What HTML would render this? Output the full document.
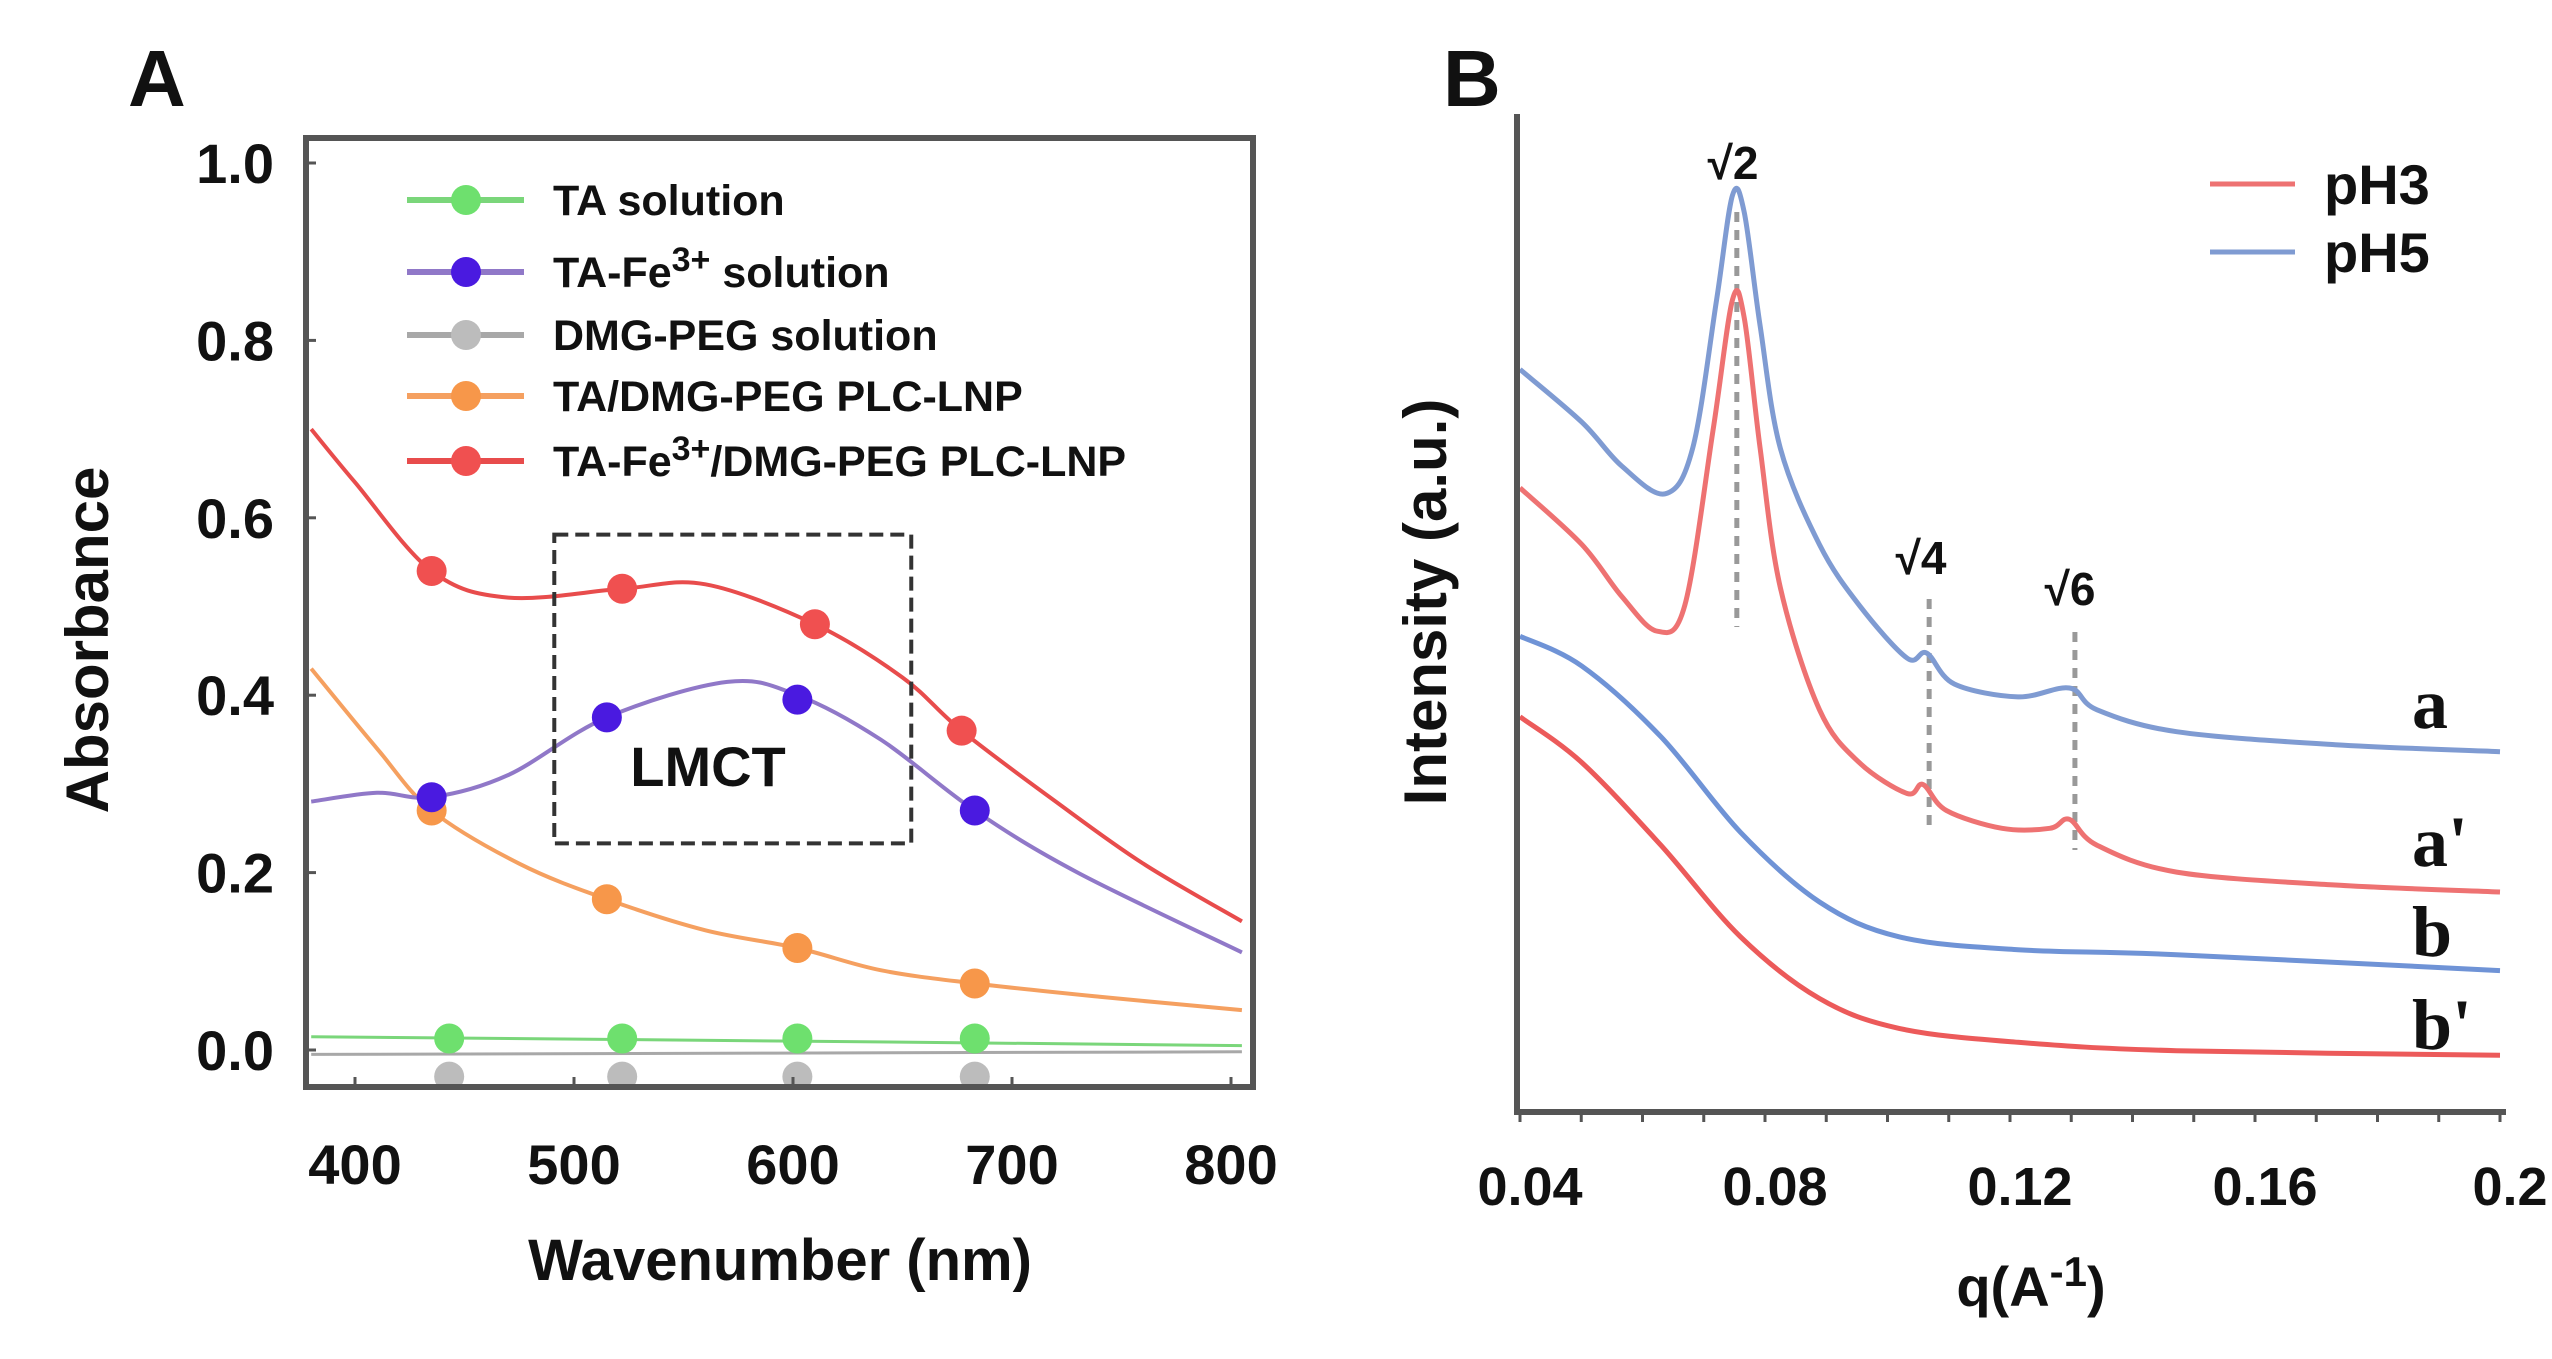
<!DOCTYPE html>
<html><head><meta charset="utf-8">
<style>
html,body{margin:0;padding:0;background:#fff;}
svg{display:block;font-family:"Liberation Sans",Arial,sans-serif;}
</style></head>
<body>
<svg id="fig" width="2552" height="1359" viewBox="0 0 2552 1359" xmlns="http://www.w3.org/2000/svg">
<g id="panelA"></g>
<g id="panelB"></g>
</svg>
<script>
// ---------- Panel A data ----------
const aXTicks = [400, 500, 600, 700, 800];
const aYTicks = [0.0, 0.2, 0.4, 0.6, 0.8, 1.0];
const aSeriesNames = ["TA solution", "TA-Fe3+ solution", "DMG-PEG solution", "TA/DMG-PEG PLC-LNP", "TA-Fe3+/DMG-PEG PLC-LNP"];
const redCurveX = [380, 400, 435, 470, 522, 560, 610, 650, 677, 720, 760, 805];
const redCurveY = [0.70, 0.64, 0.54, 0.51, 0.52, 0.525, 0.48, 0.42, 0.36, 0.28, 0.21, 0.145];
const redMarkX = [435, 522, 610, 677];
const redMarkY = [0.54, 0.52, 0.48, 0.36];
const purpleCurveX = [380, 410, 435, 470, 515, 570, 602, 640, 683, 730, 805];
const purpleCurveY = [0.28, 0.29, 0.285, 0.31, 0.375, 0.415, 0.40, 0.35, 0.27, 0.20, 0.11];
const purpleMarkX = [435, 515, 602, 683];
const purpleMarkY = [0.285, 0.375, 0.395, 0.27];
const orangeCurveX = [380, 410, 435, 475, 515, 560, 602, 640, 683, 740, 805];
const orangeCurveY = [0.43, 0.34, 0.27, 0.21, 0.17, 0.135, 0.115, 0.09, 0.075, 0.06, 0.045];
const orangeMarkX = [435, 515, 602, 683];
const orangeMarkY = [0.27, 0.17, 0.115, 0.075];
const greenCurveX = [380, 600, 805];
const greenCurveY = [0.015, 0.01, 0.005];
const greenMarkX = [443, 522, 602, 683];
const greenMarkY = [0.013, 0.013, 0.013, 0.013];
const grayCurveX = [380, 805];
const grayCurveY = [-0.005, -0.002];
const grayMarkX = [443, 522, 602, 683];
const grayMarkY = [-0.03, -0.03, -0.03, -0.03];
const lmctBoxX = [491, 654];
const lmctBoxY = [0.233, 0.581];

// ---------- Panel B data ----------
const bXTicks = [0.04, 0.08, 0.12, 0.16, 0.2];
const bXTickLabels = ["0.04", "0.08", "0.12", "0.16", "0.2"];
const curveA_q = [0.040,0.0501,0.0566,0.0637,0.0682,0.0721,0.0747,0.0766,0.0792,0.0825,0.0889,0.0954,0.1032,0.1064,0.1109,0.1213,0.1297,0.1342,0.1472,0.1731,0.2];
const curveA_I = [74.4,69.1,64.7,61.9,66.5,81.4,91.9,90.2,78.8,66.5,56.8,50.7,45.4,45.9,42.8,41.5,42.4,40.2,38.0,36.7,36.0];
const curveA2_q = [0.040,0.0501,0.0566,0.0624,0.0669,0.0715,0.0747,0.0766,0.0792,0.0825,0.0889,0.0954,0.1032,0.1058,0.1096,0.1187,0.1265,0.1297,0.1342,0.1472,0.1731,0.2];
const curveA2_I = [62.5,56.8,51.6,48.1,50.7,68.2,81.4,79.6,66.5,52.5,40.2,34.9,31.8,32.7,30.1,28.3,28.3,29.2,26.6,23.9,22.6,21.9];
const curveB_q = [0.040,0.0501,0.063,0.076,0.0889,0.1019,0.1213,0.1472,0.2];
const curveB_I = [47.6,44.6,37.5,27.9,20.9,17.4,16.1,15.6,14.0];
const curveB2_q = [0.040,0.0501,0.063,0.076,0.0889,0.1019,0.1213,0.1472,0.2];
const curveB2_I = [39.5,34.9,26.6,17.4,11.2,8.2,6.8,5.96,5.5];
const peakQ = [0.0754, 0.1068, 0.1306];
const peakLabels = ["√2", "√4", "√6"];

const NS = "http://www.w3.org/2000/svg";
function mk(parent, tag, attrs, text){
  const e = document.createElementNS(NS, tag);
  for (const k in attrs) e.setAttribute(k, attrs[k]);
  if (text !== undefined) e.textContent = text;
  parent.appendChild(e);
  return e;
}
function smoothPath(pts){
  let d = "M" + pts[0][0].toFixed(1) + "," + pts[0][1].toFixed(1);
  for (let i = 0; i < pts.length - 1; i++){
    const p0 = pts[Math.max(0,i-1)], p1 = pts[i], p2 = pts[i+1], p3 = pts[Math.min(pts.length-1,i+2)];
    const c1x = p1[0] + (p2[0]-p0[0])/6, c1y = p1[1] + (p2[1]-p0[1])/6;
    const c2x = p2[0] - (p3[0]-p1[0])/6, c2y = p2[1] - (p3[1]-p1[1])/6;
    d += " C" + c1x.toFixed(1)+","+c1y.toFixed(1)+" "+c2x.toFixed(1)+","+c2y.toFixed(1)+" "+p2[0].toFixed(1)+","+p2[1].toFixed(1);
  }
  return d;
}

// ---------- Panel A ----------
(function(){
  const g = document.getElementById("panelA");
  const fl = 306, fr = 1253, ft = 138, fb = 1087;
  const xs = v => 355 + (v - 400) * 2.19;
  const ys = v => 1050 - v * 887;
  let t;
  t = mk(g, "text", {x:128, y:106, "font-size":80, "font-weight":"bold", fill:"#111"}, "A");
  
  
  const defs = mk(g, "defs", {});
  const cp = mk(defs, "clipPath", {id:"clipA"});
  mk(cp, "rect", {x:fl, y:ft, width:fr-fl, height:fb-ft});
  const plot = mk(g, "g", {"clip-path":"url(#clipA)"});
  
  

  const series = [
    {cx:greenCurveX, cy:greenCurveY, mx:greenMarkX, my:greenMarkY, line:"#7ad67a", mark:"#6ee06e", name:"series-ta-solution", w:3},
    {cx:grayCurveX, cy:grayCurveY, mx:grayMarkX, my:grayMarkY, line:"#a8a8a8", mark:"#bcbcbc", name:"series-dmg-peg-solution", w:3},
    {cx:orangeCurveX, cy:orangeCurveY, mx:orangeMarkX, my:orangeMarkY, line:"#f5a060", mark:"#f7974a", name:"series-ta-dmg-peg-plc-lnp", w:4},
    {cx:purpleCurveX, cy:purpleCurveY, mx:purpleMarkX, my:purpleMarkY, line:"#9078c8", mark:"#4a1ae0", name:"series-ta-fe-solution", w:4},
    {cx:redCurveX, cy:redCurveY, mx:redMarkX, my:redMarkY, line:"#e84c4c", mark:"#f05050", name:"series-ta-fe-dmg-peg-plc-lnp", w:4}
  ];
  series.forEach(s => {
    const pts = s.cx.map((x,i) => [xs(x), ys(s.cy[i])]);
    const p = mk(plot, "path", {d:smoothPath(pts), fill:"none", stroke:s.line, "stroke-width":s.w});
    
    
  });
  const bx = mk(g, "rect", {x:xs(lmctBoxX[0]), y:ys(lmctBoxY[1]), width:xs(lmctBoxX[1])-xs(lmctBoxX[0]), height:ys(lmctBoxY[0])-ys(lmctBoxY[1]), fill:"none", stroke:"#333", "stroke-width":4, "stroke-dasharray":"14 7"});
  
  
  t = mk(g, "text", {x:708, y:786, "font-size":56, "font-weight":"bold", "text-anchor":"middle", fill:"#111"}, "LMCT");
  
  
  series.forEach(s => {
    s.mx.forEach((x,i) => {
      const c = mk(plot, "circle", {cx:xs(x), cy:ys(s.my[i]), r:15, fill:s.mark});
      
      
    });
  });
  const fr1 = mk(g, "rect", {x:fl, y:ft, width:fr-fl, height:fb-ft, fill:"none", stroke:"#555", "stroke-width":6});
  
  
  aYTicks.forEach(v => {
    mk(g, "line", {x1:fl, x2:fl+10, y1:ys(v), y2:ys(v), stroke:"#555", "stroke-width":3});
    const tl = mk(g, "text", {x:274, y:ys(v)+20, "font-size":56, "font-weight":"bold", "text-anchor":"end", fill:"#111"}, v.toFixed(1));
    
    
  });
  aXTicks.forEach(v => {
    mk(g, "line", {x1:xs(v), x2:xs(v), y1:fb, y2:fb-10, stroke:"#555", "stroke-width":3});
    const tl = mk(g, "text", {x:xs(v), y:1184, "font-size":56, "font-weight":"bold", "text-anchor":"middle", fill:"#111"}, String(v));
    
    
  });
  t = mk(g, "text", {x:780, y:1280, "font-size":58, "font-weight":"bold", "text-anchor":"middle", fill:"#111"}, "Wavenumber (nm)");
  
  
  t = mk(g, "text", {x:0, y:0, "font-size":60, "font-weight":"bold", "text-anchor":"middle", fill:"#111", transform:"translate(108,640) rotate(-90)"}, "Absorbance");
  
  
  const legY = [200, 272, 335, 396, 461];
  const legLine = ["#7ad67a", "#9078c8", "#a8a8a8", "#f5a060", "#e84c4c"];
  const legMark = ["#6ee06e", "#4a1ae0", "#bcbcbc", "#f7974a", "#f05050"];
  aSeriesNames.forEach((n,i) => {
    const lg = mk(g, "g", {});
    
    
    mk(lg, "line", {x1:407, x2:524, y1:legY[i], y2:legY[i], stroke:legLine[i], "stroke-width":6});
    mk(lg, "circle", {cx:466, cy:legY[i], r:15, fill:legMark[i]});
    const tx = mk(lg, "text", {x:553, y:legY[i]+15, "font-size":43, "font-weight":"bold", fill:"#111"});
    if (n.indexOf("3+") >= 0){
      const parts = n.split("3+");
      mk(tx, "tspan", {}, parts[0]);
      mk(tx, "tspan", {dy:-16, "font-size":34}, "3+");
      mk(tx, "tspan", {dy:16}, parts[1]);
    } else tx.textContent = n;
  });
})();

// ---------- Panel B ----------
(function(){
  const g = document.getElementById("panelB");
  const fl = 1517, fr = 2506, ft = 114, fb = 1112;
  const xs = q => 1520 + (q - 0.04) * 6125;
  const ys = v => 1110 - v * 9.954;
  let t;
  t = mk(g, "text", {x:1443, y:106, "font-size":80, "font-weight":"bold", fill:"#111"}, "B");
  
  
  const dashY = [[212,627],[599,830],[632,850]];
  peakQ.forEach((q,i) => {
    const l = mk(g, "line", {x1:xs(q), x2:xs(q), y1:dashY[i][0], y2:dashY[i][1], stroke:"#999", "stroke-width":5, "stroke-dasharray":"10 8"});
    
    
  });
  const curves = [
    {q:curveA_q, I:curveA_I, c:"#7f9bd2", n:"curve-a-ph5"},
    {q:curveA2_q, I:curveA2_I, c:"#ee7272", n:"curve-a-prime-ph3"},
    {q:curveB_q, I:curveB_I, c:"#6f93d6", n:"curve-b-ph5"},
    {q:curveB2_q, I:curveB2_I, c:"#ec5a5a", n:"curve-b-prime-ph3"}
  ];
  curves.forEach(c => {
    const pts = c.q.map((q,i) => [xs(q), ys(c.I[i])]);
    const p = mk(g, "path", {d:smoothPath(pts), fill:"none", stroke:c.c, "stroke-width":5});
    
    
  });
  const labY = [163, 558, 589];
  const labX = [1733, 1921, 2070];
  peakLabels.forEach((s,i) => {
    const tl = mk(g, "text", {x:labX[i], y:labY[i]+16, "font-size":46, "font-weight":"bold", "text-anchor":"middle", fill:"#111"}, s);
    
    
  });
  const ax = mk(g, "path", {d:`M${fl},${ft} L${fl},${fb} L${fr},${fb}`, fill:"none", stroke:"#555", "stroke-width":6});
  
  
  for (let q = 0.04; q <= 0.2001; q += 0.01){
    mk(g, "line", {x1:xs(q), x2:xs(q), y1:fb, y2:fb+10, stroke:"#555", "stroke-width":3});
  }
  bXTicks.forEach((q,i) => {
    const tl = mk(g, "text", {x:xs(q)+10, y:1205, "font-size":54, "font-weight":"bold", "text-anchor":"middle", fill:"#111"}, bXTickLabels[i]);
    
    
  });
  t = mk(g, "text", {x:2031, y:1306, "font-size":56, "font-weight":"bold", "text-anchor":"middle", fill:"#111"});
  mk(t, "tspan", {}, "q(A");
  mk(t, "tspan", {dy:-20, "font-size":42}, "-1");
  mk(t, "tspan", {dy:20}, ")");
  
  
  t = mk(g, "text", {x:0, y:0, "font-size":60, "font-weight":"bold", "text-anchor":"middle", fill:"#111", transform:"translate(1446,602) rotate(-90)"}, "Intensity (a.u.)");
  
  
  const leg = [["pH3","#ee7272",184],["pH5","#7f9bd2",252]];
  leg.forEach(l => {
    const lg = mk(g, "g", {});
    
    
    mk(lg, "line", {x1:2210, x2:2295, y1:l[2], y2:l[2], stroke:l[1], "stroke-width":5});
    mk(lg, "text", {x:2324, y:l[2]+20, "font-size":56, "font-weight":"bold", fill:"#111"}, l[0]);
  });
  const cl = [["a",728],["a'",866],["b",956],["b'",1049]];
  cl.forEach(c => {
    const tl = mk(g, "text", {x:2412, y:c[1], "font-size":72, "font-weight":"bold", "font-family":"Liberation Serif, serif", fill:"#111"}, c[0]);
    
    
  });
})();
</script>
</body></html>
